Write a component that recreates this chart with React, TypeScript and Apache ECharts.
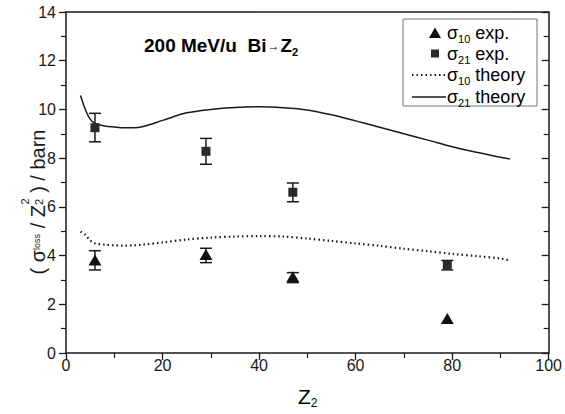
import React, { useEffect, useRef } from "react";
import * as echarts from "echarts";

const z2Exp = [6, 29, 47, 79];
const sigma10Exp = [3.82, 4.04, 3.13, 1.42];
const sigma10Lo: (number | null)[] = [3.41, 3.71, 2.89, null];
const sigma10Hi: (number | null)[] = [4.2, 4.3, 3.3, null];
const sigma21Exp = [9.25, 8.28, 6.6, 3.61];
const sigma21Lo = [8.67, 7.75, 6.21, 3.41];
const sigma21Hi = [9.84, 8.81, 6.98, 3.8];

const z2Theory = [3, 4, 5, 6, 8, 10, 12, 14, 16, 20, 25, 30, 35, 40, 45, 50, 55, 60, 65, 70, 75, 80, 85, 90, 92];
const sigma21Theory = [10.57, 10.0, 9.6, 9.43, 9.32, 9.28, 9.25, 9.25, 9.3, 9.55, 9.86, 10.0, 10.08, 10.11, 10.07, 9.98, 9.78, 9.53, 9.27, 9.0, 8.74, 8.47, 8.24, 8.04, 7.96];
const sigma10Theory = [4.98, 4.85, 4.62, 4.5, 4.45, 4.42, 4.41, 4.42, 4.45, 4.54, 4.66, 4.74, 4.78, 4.8, 4.78, 4.7, 4.6, 4.5, 4.4, 4.28, 4.18, 4.07, 3.98, 3.88, 3.8];

const xTicks = [0, 20, 40, 60, 80, 100];
const yTicks = [0, 2, 4, 6, 8, 10, 12, 14];

const FONT = "'Liberation Sans', Arial, Helvetica, sans-serif";
const INK = "#1a1a1a";

function measure(text: string, size: number, weight = "normal") {
  const c = document.createElement("canvas").getContext("2d")!;
  c.font = `${weight} ${size}px ${FONT}`;
  return c.measureText(text).width;
}

function errorSeries(name: string, lo: (number | null)[], hi: (number | null)[]) {
  const data = z2Exp
    .map((x, i) => (lo[i] == null || hi[i] == null ? null : [x, lo[i], hi[i]]))
    .filter((d) => d != null);
  return {
    type: "custom",
    name,
    silent: true,
    z: 3,
    data,
    renderItem: (params: any, api: any) => {
      const x = api.value(0);
      const p1 = api.coord([x, api.value(1)]);
      const p2 = api.coord([x, api.value(2)]);
      const hw = 6;
      const st = { stroke: INK, lineWidth: 1.5 };
      return {
        type: "group",
        children: [
          { type: "line", shape: { x1: p1[0], y1: p1[1], x2: p2[0], y2: p2[1] }, style: st },
          { type: "line", shape: { x1: p1[0] - hw, y1: p1[1], x2: p1[0] + hw, y2: p1[1] }, style: st },
          { type: "line", shape: { x1: p2[0] - hw, y1: p2[1], x2: p2[0] + hw, y2: p2[1] }, style: st },
        ],
      };
    },
  };
}

function buildYName() {
  const big = 20, sub = 11, tiny = 9;
  const parts: any[] = [];
  let x = 0;
  const add = (t: string, size: number, dy: number) => {
    parts.push({ type: "text", x, y: dy, style: { text: t, font: `${size}px ${FONT}`, fill: INK, verticalAlign: "alphabetic" } });
    x += measure(t, size);
  };
  add("( σ", big, 0);
  add("loss", tiny, 4);
  add(" / Z", big, 0);
  const x0 = x;
  parts.push({ type: "text", x: x0 + 0.5, y: -9, style: { text: "2", font: `${sub}px ${FONT}`, fill: INK, verticalAlign: "alphabetic" } });
  add("2", sub, 5);
  x = Math.max(x, x0 + 0.5 + measure("2", sub));
  add(" ) / barn", big, 0);
  const W = x;
  parts.forEach((p) => (p.x -= W / 2));
  return {
    type: "group",
    x: 28,
    y: 202,
    rotation: Math.PI / 2,
    children: parts,
  };
}

export default function App() {
  const ref = useRef<HTMLDivElement>(null);
  useEffect(() => {
    if (!ref.current) return;
    const chart = echarts.init(ref.current, null, { renderer: "svg" });
    const labelRich = {
      n: { fontSize: 18, fontFamily: FONT, color: INK, lineHeight: 22 },
      s: { fontSize: 11, fontFamily: FONT, color: INK, lineHeight: 11, verticalAlign: "bottom" },
    };
    const legendX = 447;
    const rows = [33, 54, 75, 97];
    const legendTexts = [
      "{n|σ}{s|10}{n| exp.}",
      "{n|σ}{s|21}{n| exp.}",
      "{n|σ}{s|10}{n| theory}",
      "{n|σ}{s|21}{n| theory}",
    ];
    const option: any = {
      animation: false,
      backgroundColor: "#ffffff",
      grid: { left: 66, right: 14, top: 12, bottom: 61, containLabel: false },
      xAxis: [
        {
          type: "value",
          min: 0,
          max: 100,
          interval: 20,
          axisLine: { show: true, onZero: false, lineStyle: { color: INK, width: 1.5 } },
          axisTick: { show: true, inside: false, length: 7, lineStyle: { color: INK, width: 1.3 } },
          minorTick: { show: true, splitNumber: 2, length: 5, lineStyle: { color: INK, width: 1.2 } },
          splitLine: { show: false },
          axisLabel: {
            fontSize: 16,
            fontFamily: FONT,
            color: INK,
            margin: 4,
            formatter: (v: number) => (xTicks.includes(v) ? String(v) : ""),
          },
        },
        {
          type: "value",
          position: "top",
          min: 0,
          max: 100,
          interval: 20,
          axisLine: { show: true, onZero: false, lineStyle: { color: INK, width: 1.5 } },
          axisTick: { show: false },
          axisLabel: { show: false },
          splitLine: { show: false },
        },
      ],
      yAxis: [
        {
          type: "value",
          min: 0,
          max: 14,
          interval: 2,
          axisLine: { show: true, onZero: false, lineStyle: { color: INK, width: 1.5 } },
          axisTick: { show: true, inside: false, length: 7, lineStyle: { color: INK, width: 1.3 } },
          minorTick: { show: true, splitNumber: 2, length: 5, lineStyle: { color: INK, width: 1.2 } },
          splitLine: { show: false },
          axisLabel: {
            fontSize: 16,
            fontFamily: FONT,
            color: INK,
            margin: 10,
            formatter: (v: number) => (yTicks.includes(v) ? String(v) : ""),
          },
        },
        {
          type: "value",
          position: "right",
          min: 0,
          max: 14,
          interval: 2,
          axisLine: { show: true, onZero: false, lineStyle: { color: INK, width: 1.5 } },
          axisTick: { show: true, inside: true, length: 7, lineStyle: { color: INK, width: 1.3 } },
          minorTick: { show: true, splitNumber: 2, length: 5, lineStyle: { color: INK, width: 1.2 } },
          axisLabel: { show: false },
          splitLine: { show: false },
        },
      ],
      series: [
        {
          type: "line",
          name: "σ21 theory",
          data: z2Theory.map((x, i) => [x, sigma21Theory[i]]),
          smooth: 0.3,
          symbol: "none",
          lineStyle: { color: INK, width: 1.5, type: "solid" },
          z: 2,
        },
        {
          type: "line",
          name: "σ10 theory",
          data: z2Theory.map((x, i) => [x, sigma10Theory[i]]),
          smooth: 0.3,
          symbol: "none",
          lineStyle: { color: INK, width: 2.2, type: [1.5, 3] },
          z: 2,
        },
        errorSeries("σ10 err", sigma10Lo, sigma10Hi),
        errorSeries("σ21 err", sigma21Lo, sigma21Hi),
        {
          type: "scatter",
          name: "σ10 exp.",
          data: z2Exp.map((x, i) => [x, sigma10Exp[i]]),
          symbol: "triangle",
          symbolSize: [13, 11],
          itemStyle: { color: "#111", opacity: 1 },
          z: 4,
        },
        {
          type: "scatter",
          name: "σ21 exp.",
          data: z2Exp.map((x, i) => [x, sigma21Exp[i]]),
          symbol: "rect",
          symbolSize: 9,
          itemStyle: { color: "#2a2a2a", opacity: 1 },
          z: 4,
        },
      ],
      graphic: [
        {
          type: "text",
          left: 144,
          top: 36,
          style: {
            text: "{b|200 MeV/u  Bi}{a|→}{b|Z}{bs|2}",
            rich: {
              b: { fontSize: 19, fontWeight: "bold", fontFamily: FONT, color: INK, lineHeight: 24 },
              a: { fontSize: 12, fontFamily: FONT, color: INK, lineHeight: 24, padding: [0, 1, 0, 1] },
              bs: { fontSize: 11, fontWeight: "bold", fontFamily: FONT, color: INK, lineHeight: 11, verticalAlign: "bottom" },
            },
          },
        },
        {
          type: "text",
          left: 298,
          top: 386,
          style: {
            text: "{n|Z}{s|2}",
            rich: {
              n: { fontSize: 21, fontFamily: FONT, color: INK, lineHeight: 24 },
              s: { fontSize: 12, fontFamily: FONT, color: INK, lineHeight: 12, verticalAlign: "bottom" },
            },
          },
        },
        buildYName(),
        {
          type: "rect",
          shape: { x: 403, y: 19, width: 134, height: 87 },
          style: { fill: "#ffffff", stroke: "#777", lineWidth: 1 },
          z: 10,
        },
        {
          type: "polygon",
          shape: { points: [[435, 27.5], [441, 38], [429, 38]] },
          style: { fill: "#111" },
          z: 11,
        },
        {
          type: "rect",
          shape: { x: 431, y: 49.5, width: 8, height: 8 },
          style: { fill: "#2a2a2a" },
          z: 11,
        },
        {
          type: "line",
          shape: { x1: 412, y1: rows[2], x2: 446, y2: rows[2] },
          style: { stroke: INK, lineWidth: 2, lineDash: [1.5, 3] },
          z: 11,
        },
        {
          type: "line",
          shape: { x1: 412, y1: rows[3], x2: 446, y2: rows[3] },
          style: { stroke: INK, lineWidth: 1.5 },
          z: 11,
        },
        ...legendTexts.map((t, i) => ({
          type: "text",
          x: legendX,
          y: rows[i],
          z: 11,
          style: { text: t, rich: labelRich, verticalAlign: "middle", align: "left" },
        })),
      ],
    };
    chart.setOption(option);
    return () => chart.dispose();
  }, []);
  return <div ref={ref} style={{ position: "absolute", left: 0, top: 0, width: 565, height: 414 }} />;
}
